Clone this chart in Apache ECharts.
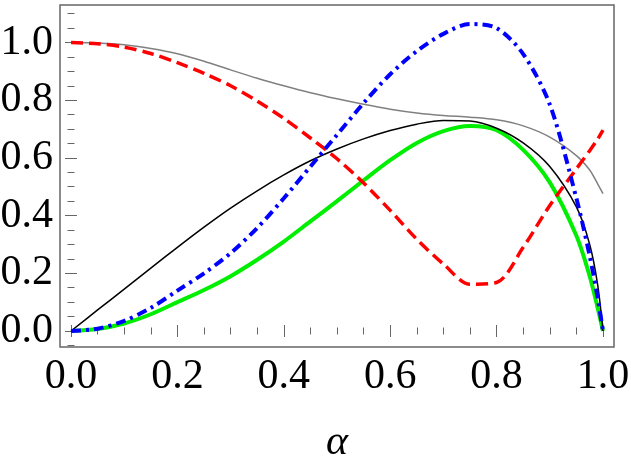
<!DOCTYPE html>
<html style="height: 100%; margin: 0;">
<head>
    <meta charset="utf-8" />
    <title></title>
    <script src="https://cdn.jsdelivr.net/npm/echarts@6.0.0/dist/echarts.min.js"></script>
</head>
<body style="height: 100%; margin: 0; background: #fff;">
<div id="main" style="width: 631px; height: 466px;"></div>
<script type="text/javascript">
    // sample points along alpha
    var xs = [0, 0.05, 0.1, 0.15, 0.2, 0.25, 0.3, 0.35, 0.4, 0.45, 0.5, 0.55, 0.6, 0.65, 0.7, 0.75, 0.8, 0.85, 0.9, 0.95, 0.975, 0.99, 1];

    var grayVals  = [1.0, 0.998, 0.992, 0.979, 0.961, 0.935, 0.905, 0.876, 0.85, 0.826, 0.805, 0.786, 0.769, 0.756, 0.747, 0.741, 0.732, 0.711, 0.672, 0.608, 0.558, 0.51, 0.476];
    var redVals   = [1.0, 0.996, 0.984, 0.962, 0.93, 0.893, 0.85, 0.797, 0.737, 0.669, 0.597, 0.513, 0.418, 0.318, 0.232, 0.162, 0.168, 0.29, 0.435, 0.562, 0.625, 0.665, 0.696];
    var blueVals  = [0, 0.008, 0.035, 0.08, 0.14, 0.2, 0.27, 0.357, 0.46, 0.57, 0.68, 0.79, 0.89, 0.97, 1.03, 1.064, 1.05, 0.96, 0.785, 0.46, 0.26, 0.115, 0];
    var greenVals = [0, 0.007, 0.026, 0.058, 0.1, 0.142, 0.19, 0.247, 0.31, 0.38, 0.45, 0.522, 0.592, 0.652, 0.693, 0.711, 0.696, 0.628, 0.515, 0.33, 0.19, 0.08, 0];
    var blackVals = [0, 0.073, 0.145, 0.218, 0.29, 0.36, 0.426, 0.486, 0.541, 0.59, 0.631, 0.666, 0.695, 0.717, 0.73, 0.728, 0.703, 0.652, 0.57, 0.43, 0.30, 0.16, 0];

    // tick positions
    var xMajor = [0, 0.2, 0.4, 0.6, 0.8, 1.0];
    var xMinor = [0.05, 0.1, 0.15, 0.25, 0.3, 0.35, 0.45, 0.5, 0.55, 0.65, 0.7, 0.75, 0.85, 0.9, 0.95];
    var yMajor = [0, 0.2, 0.4, 0.6, 0.8, 1.0];
    var yMinor = [-0.05, 0.05, 0.1, 0.15, 0.25, 0.3, 0.35, 0.45, 0.5, 0.55, 0.65, 0.7, 0.75, 0.85, 0.9, 0.95, 1.05, 1.1];

    var xMin = -0.0207, xMax = 1.0207;
    var yMin = -0.0555, yMax = 1.13;

    function pairs(vals) {
        return xs.map(function (x, i) { return [x, vals[i]]; });
    }

    var tickColor = '#666';
    var font = "'Liberation Serif', serif";

    function xAx(pos, ticks, len, labels) {
        return {
            type: 'value', position: pos, min: xMin, max: xMax,
            axisLine: { show: false },
            splitLine: { show: false },
            axisTick: { show: true, inside: true, length: len, customValues: ticks, lineStyle: { color: tickColor, width: 1 } },
            axisLabel: labels ? {
                show: true, customValues: xMajor, margin: 9,
                fontSize: 42, fontFamily: font, color: '#000',
                formatter: function (v) { return v.toFixed(1); }
            } : { show: false }
        };
    }
    function yAx(pos, ticks, len, labels) {
        return {
            type: 'value', position: pos, min: yMin, max: yMax,
            axisLine: { show: false },
            splitLine: { show: false },
            axisTick: { show: true, inside: true, length: len, customValues: ticks, lineStyle: { color: tickColor, width: 1 } },
            axisLabel: labels ? {
                show: true, customValues: yMajor, margin: 7,
                fontSize: 42, fontFamily: font, color: '#000',
                formatter: function (v) { return v.toFixed(1); }
            } : { show: false }
        };
    }

    var xAxes = [xAx('bottom', xMajor, 6, true), xAx('bottom', xMinor, 3.5, false), xAx('top', xMajor, 6, false), xAx('top', xMinor, 3.5, false)];
    xAxes[0].name = 'α';
    xAxes[0].nameLocation = 'middle';
    xAxes[0].nameGap = 75;
    xAxes[0].nameTextStyle = { fontSize: 42, fontFamily: font, fontStyle: 'italic', color: '#000' };

    var yAxes = [yAx('left', yMajor, 6, true), yAx('left', yMinor, 3.5, false), yAx('right', yMajor, 6, false), yAx('right', yMinor, 3.5, false)];

    var myChart = echarts.init(document.getElementById('main'));
    myChart.setOption({
        animation: false,
        grid: {
            left: 60, right: 17, top: 5, bottom: 119,
            show: true, borderColor: '#666', borderWidth: 1.5, backgroundColor: 'transparent',
            outerBoundsMode: 'none'
        },
        xAxis: xAxes,
        yAxis: yAxes,
        series: [
            { name: 'green', type: 'line', data: pairs(greenVals), showSymbol: false, smooth: 0.3,
              lineStyle: { color: '#00ee00', width: 4 } },
            { name: 'black', type: 'line', data: pairs(blackVals), showSymbol: false, smooth: 0.3,
              lineStyle: { color: '#000', width: 1.5 } },
            { name: 'gray', type: 'line', data: pairs(grayVals), showSymbol: false, smooth: 0.3,
              lineStyle: { color: '#808080', width: 1.5 } },
            { name: 'red', type: 'line', data: pairs(redVals), showSymbol: false, smooth: 0.3,
              lineStyle: { color: '#ff0000', width: 3.5, type: [12, 6] } },
            { name: 'blue', type: 'line', data: pairs(blueVals), showSymbol: false, smooth: 0.3,
              lineStyle: { color: '#0000ff', width: 4, type: [10, 5, 3, 5] } }
        ]
    });
</script>
</body>
</html>
